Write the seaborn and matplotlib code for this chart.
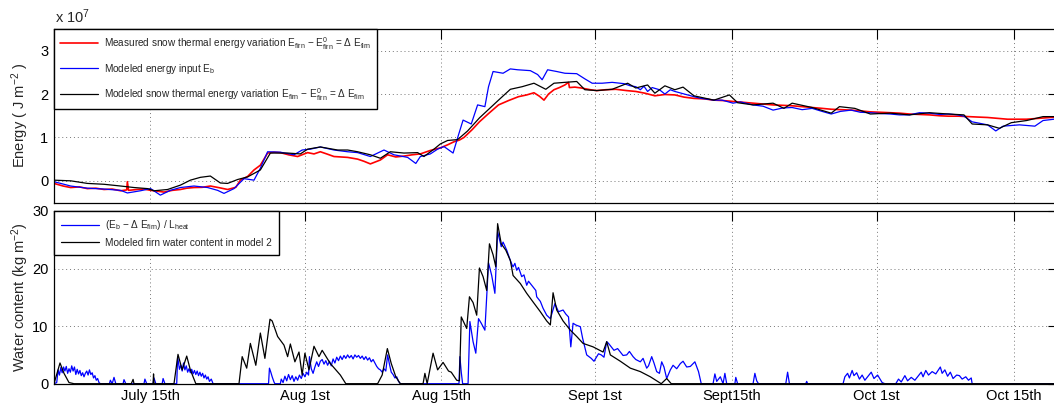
import matplotlib
matplotlib.use("Agg")
import matplotlib.pyplot as plt
import seaborn as sns
import pandas as pd

# ---------------- data (days on the plot's time axis) -------------
tick_days = [10.56, 27.56, 42.6, 59.5, 74.6, 90.5, 105.6]
tick_labels = ["July 15th", "Aug 1st", "Aug 15th", "Sept 1st", "Sept15th", "Oct 1st", "Oct 15th"]

# Top panel, energy in units of 1e7 J m^-2
meas_day = [0, 1.0, 1.83, 2.8, 3.67, 4.6, 5.5, 6.4, 7.33, 8.0, 8.07, 8.2, 9.17, 9.9, 10.63, 11.4, 12.1, 13.0,
            13.9, 14.6, 15.4, 16.3, 17.2, 18.2, 19.1, 20.0, 20.5, 21.3, 22.0, 22.7, 23.5, 24.2, 24.9, 25.8,
            26.8, 27.9, 28.6, 29.3, 30.0, 30.8, 32.3, 33.4, 34.1, 34.8, 35.9, 36.7, 37.6, 38.5, 39.4, 40.3,
            41.4, 42.5, 43.3, 44.0, 44.6, 45.1, 46.0, 46.8, 47.8, 48.9, 50.0, 51.1, 52.0, 52.8, 53.4, 53.9,
            54.4, 55.0, 55.6, 56.2, 56.6, 56.7, 57.3, 58.0, 59.0, 59.7, 60.7, 61.8, 63.0, 64.0, 65.0, 66.1,
            67.2, 68.3, 69.3, 70.4, 71.5, 72.6, 73.6, 74.7, 75.8, 76.9, 78.0, 79.1, 80.2, 81.2, 82.3, 83.4,
            84.5, 85.5, 86.6, 87.7, 88.8, 89.8, 90.9, 92.0, 93.0, 94.1, 95.2, 96.3, 97.4, 98.4, 99.5, 100.6,
            101.6, 102.7, 103.8, 104.9, 106.0, 107.0, 108.3, 109.6, 110.5]
meas_val = [-0.06, -0.12, -0.155, -0.14, -0.18, -0.17, -0.2, -0.19, -0.23, -0.21, -0.02, -0.22, -0.2, -0.19,
            -0.22, -0.24, -0.26, -0.22, -0.2, -0.17, -0.155, -0.15, -0.12, -0.16, -0.2, -0.15, 0.015, 0.1,
            0.25, 0.36, 0.64, 0.66, 0.65, 0.6, 0.56, 0.65, 0.62, 0.67, 0.62, 0.56, 0.54, 0.5, 0.45, 0.39,
            0.48, 0.6, 0.55, 0.57, 0.6, 0.62, 0.7, 0.76, 0.83, 0.9, 0.94, 1.0, 1.18, 1.36, 1.55, 1.75, 1.85,
            1.94, 1.98, 2.03, 1.95, 1.86, 2.0, 2.1, 2.15, 2.21, 2.27, 2.15, 2.16, 2.14, 2.1, 2.08, 2.1, 2.11,
            2.08, 2.06, 2.02, 1.96, 1.99, 1.98, 1.93, 1.9, 1.89, 1.86, 1.85, 1.83, 1.81, 1.79, 1.77, 1.75,
            1.74, 1.73, 1.71, 1.69, 1.67, 1.65, 1.64, 1.63, 1.61, 1.59, 1.58, 1.57, 1.56, 1.54, 1.53, 1.52,
            1.5, 1.49, 1.49, 1.48, 1.47, 1.46, 1.44, 1.42, 1.42, 1.42, 1.44, 1.46, 1.47]

eb_day = [0, 1.83, 3.67, 5.5, 7.33, 8.07, 9.5, 10.63, 11.7, 12.8, 13.9, 15.4, 16.9, 18.0, 18.7, 19.8, 20.9,
          22.0, 22.7, 23.5, 24.9, 26.4, 27.3, 28.2, 29.3, 30.8, 32.3, 33.4, 34.8, 36.3, 37.4, 38.9, 39.8,
          40.3, 41.4, 42.2, 42.9, 43.5, 43.9, 44.5, 45.0, 45.9, 46.6, 47.4, 47.8, 48.3, 49.4, 50.2, 51.0,
          52.4, 53.2, 53.7, 54.3, 55.3, 56.2, 57.5, 58.4, 59.2, 60.3, 61.4, 62.7, 63.4, 64.0, 64.5, 64.9,
          65.3, 65.8, 66.6, 67.2, 67.8, 68.3, 69.0, 70.4, 71.2, 72.6, 73.5, 74.7, 75.5, 76.9, 78.0, 79.1,
          80.2, 81.2, 82.3, 83.4, 84.5, 85.5, 86.5, 87.7, 88.7, 89.8, 91.0, 92.0, 93.0, 94.1, 95.2, 96.3,
          97.4, 98.4, 99.4, 100.1, 101.0, 102.7, 103.6, 104.4, 106.2, 107.9, 108.8, 110.0, 110.5]
eb_val = [-0.02, -0.12, -0.17, -0.19, -0.22, -0.28, -0.23, -0.18, -0.33, -0.22, -0.155, -0.12, -0.155, -0.22,
          -0.29, -0.18, 0.05, 0.015, 0.29, 0.67, 0.66, 0.6, 0.71, 0.73, 0.78, 0.71, 0.67, 0.65, 0.56, 0.71,
          0.6, 0.54, 0.4, 0.56, 0.62, 0.73, 0.79, 0.7, 0.64, 1.06, 1.4, 1.31, 1.75, 1.71, 2.17, 2.52, 2.48,
          2.58, 2.56, 2.54, 2.45, 2.33, 2.56, 2.52, 2.48, 2.47, 2.35, 2.25, 2.25, 2.27, 2.24, 2.19, 2.17,
          2.1, 2.18, 2.06, 2.15, 2.1, 2.0, 2.1, 2.06, 2.02, 1.94, 1.9, 1.86, 1.86, 1.79, 1.82, 1.75, 1.72,
          1.63, 1.68, 1.69, 1.64, 1.67, 1.6, 1.54, 1.6, 1.63, 1.58, 1.57, 1.55, 1.54, 1.52, 1.52, 1.57,
          1.56, 1.53, 1.54, 1.52, 1.49, 1.36, 1.29, 1.15, 1.26, 1.29, 1.26, 1.39, 1.42, 1.43]

mod_day = [0, 1.83, 3.67, 5.5, 7.33, 8.8, 10.3, 11.0, 12.5, 13.9, 15.0, 16.1, 17.2, 18.3, 19.1, 20.2, 21.3,
           22.7, 23.8, 25.7, 27.1, 27.9, 29.3, 31.2, 32.3, 33.4, 34.8, 35.9, 37.0, 38.5, 40.0, 40.7, 41.8,
           42.5, 43.3, 44.4, 45.5, 46.8, 48.9, 50.2, 51.5, 52.8, 54.1, 55.0, 56.2, 57.5, 58.4, 59.7, 61.4,
           63.1, 64.0, 65.3, 66.1, 67.2, 68.3, 69.2, 70.4, 72.6, 74.3, 75.2, 76.9, 79.1, 80.3, 81.2, 83.4,
           85.5, 86.4, 88.1, 89.8, 92.0, 94.1, 96.3, 98.4, 100.1, 101.0, 102.7, 104.0, 105.3, 107.0, 108.8,
           110.5]
mod_val = [0.015, 0.0, -0.06, -0.08, -0.12, -0.155, -0.18, -0.23, -0.2, -0.1, 0.015, 0.08, 0.11, -0.05, -0.06,
           0.03, 0.09, 0.25, 0.64, 0.64, 0.62, 0.73, 0.78, 0.71, 0.71, 0.67, 0.6, 0.52, 0.67, 0.64, 0.65,
           0.56, 0.73, 0.85, 0.93, 0.95, 1.15, 1.45, 1.86, 2.11, 2.17, 2.25, 2.11, 2.25, 2.27, 2.29, 2.1,
           2.08, 2.11, 2.25, 2.14, 2.21, 2.02, 2.19, 2.1, 2.16, 1.96, 1.86, 1.98, 1.8, 1.75, 1.79, 1.67,
           1.79, 1.69, 1.56, 1.71, 1.67, 1.54, 1.56, 1.52, 1.57, 1.54, 1.52, 1.31, 1.29, 1.21, 1.34, 1.39,
           1.48, 1.48]

# Bottom panel, water content (kg m^-2)
wc_day = [0, 0.3, 0.45, 0.6, 0.75, 0.9, 1.05, 1.2, 1.35, 1.5, 1.65, 1.8, 1.95, 2.1, 2.25, 2.4, 2.55, 2.7,
          2.85, 3.0, 3.15, 3.3, 3.45, 3.6, 3.75, 3.9, 4.05, 4.2, 4.35, 4.5, 4.65, 4.8, 4.95, 5.1, 6.1, 6.2,
          6.4, 6.6, 6.8, 7.6, 7.7, 7.9, 9.9, 10.0, 10.2, 10.9, 11.0, 11.2, 11.9, 12.0, 12.2, 13.5, 13.6, 13.8,
          13.95, 14.1, 14.25, 14.4, 14.55, 14.7, 14.85, 15.0, 15.15, 15.3, 15.45, 15.6, 15.75, 15.9, 16.05,
          16.2, 16.35, 16.5, 16.65, 16.8, 16.95, 17.1, 17.3, 17.5, 23.6, 23.7, 23.85, 24.0, 24.2, 24.3,
          24.9, 25.0, 25.2, 25.4, 25.6, 25.8, 26.0, 26.2, 26.4, 26.6, 26.8, 27.0, 27.2, 27.4, 27.6, 27.8,
          28.0, 28.1, 28.3, 28.5, 28.7, 28.9, 29.1, 29.3, 29.5, 29.7, 29.9, 30.1, 30.3, 30.5, 30.7, 30.9,
          31.1, 31.3, 31.5, 31.7, 31.9, 32.1, 32.3, 32.5, 32.7, 32.9, 33.1, 33.3, 33.5, 33.7, 33.9, 34.1,
          34.3, 34.5, 34.7, 34.9, 35.1, 35.3, 35.5, 35.7, 35.9, 36.1, 36.3, 36.5, 36.7, 36.9, 37.1, 37.3,
          37.5, 37.7, 37.9, 38.1, 44.55, 44.65, 44.8, 44.95, 45.55, 45.75, 46.1, 46.4, 46.7, 47.0, 47.4,
          47.8, 48.15, 48.5, 48.8, 49.2, 49.4, 49.8, 50.0, 50.2, 50.4, 50.5, 50.7, 50.9, 51.1, 51.45, 51.7,
          52.0, 52.2, 52.7, 53.0, 53.1, 53.5, 53.8, 54.2, 54.6, 55.1, 55.5, 56.0, 56.3, 56.6, 56.85, 57.1,
          57.4, 57.9, 58.15, 58.6, 59.1, 59.4, 59.7, 59.9, 60.2, 60.5, 60.8, 61.0, 61.3, 61.6, 62.0, 62.3,
          62.6, 63.0, 63.3, 63.7, 64.0, 64.5, 64.8, 65.2, 65.4, 65.75, 66.0, 66.3, 66.6, 66.85, 67.1, 67.4,
          67.8, 68.1, 68.5, 68.9, 69.2, 69.6, 70.0, 70.5, 70.9, 71.2, 72.5, 72.7, 72.9, 73.3, 73.6, 73.8,
          74.0, 74.9, 75.0, 75.2, 76.9, 77.1, 77.3, 77.5, 80.5, 80.7, 80.9, 82.7, 82.8, 82.9, 86.8, 87.0,
          87.3, 87.5, 87.8, 88.0, 88.3, 88.6, 88.9, 89.2, 89.6, 89.9, 90.2, 90.6, 91.1, 91.4, 92.6, 92.9,
          93.2, 93.6, 93.9, 94.3, 94.7, 95.1, 95.4, 95.6, 95.9, 96.2, 96.6, 97.0, 97.5, 97.7, 98.0, 98.3,
          98.6, 98.9, 99.3, 99.6, 99.9, 100.3, 100.6, 100.9, 101.0, 110.5]
wc_val = [0, 0.2, 2.4, 1.5, 2.8, 1.9, 2.9, 2.2, 3.0, 1.8, 2.6, 2.0, 3.1, 2.2, 2.9, 1.6, 2.5, 1.7, 2.3, 1.4,
          1.9, 1.2, 1.8, 2.2, 1.5, 2.4, 1.6, 1.9, 1.0, 1.4, 0.6, 0.9, 0.2, 0, 0, 0.6, 0, 1.1, 0, 0, 0.7, 0,
          0, 0.8, 0, 0, 1.0, 0, 0, 0.9, 0, 0, 4.7, 2.5, 3.2, 2.2, 3.6, 2.4, 3.1, 2.0, 2.6, 1.9, 2.5, 1.7, 2.3,
          1.6, 2.2, 1.4, 2.0, 1.3, 1.8, 1.0, 1.5, 0.8, 1.2, 0.4, 0.8, 0, 0, 2.7, 2.0, 1.2, 0.3, 0, 0, 0.8,
          0.2, 1.3, 0.5, 1.6, 0.7, 1.4, 0.4, 1.2, 0.6, 1.5, 0.9, 1.8, 1.2, 2.0, 1.5, 4.7, 2.6, 1.8, 2.9, 3.8,
          3.0, 3.9, 4.2, 3.4, 4.0, 3.2, 3.9, 3.1, 4.3, 3.6, 4.6, 4.0, 4.8, 4.2, 4.9, 4.4, 5.0, 4.5, 4.9, 4.3,
          5.0, 4.6, 4.9, 4.4, 4.8, 4.2, 4.7, 4.1, 4.5, 3.8, 4.2, 3.6, 3.0, 2.6, 2.4, 2.0, 2.6, 2.2, 5.0, 3.4,
          2.0, 1.6, 1.0, 1.2, 0.4, 0, 0, 4.7, 2.0, 0, 0, 10.8, 7.3, 5.3, 11.3, 10.5, 9.3, 21.0, 18.8, 15.7,
          26.4, 23.8, 24.6, 23.2, 22.3, 21.4, 20.6, 20.3, 20.9, 19.7, 20.2, 18.6, 18.9, 17.1, 17.8, 16.8,
          16.2, 15.1, 14.3, 13.1, 11.9, 11.3, 13.9, 12.5, 12.8, 12.1, 11.6, 6.4, 10.5, 10.2, 9.9, 7.9, 5.0,
          4.4, 3.9, 4.7, 5.2, 5.0, 4.6, 7.3, 7.0, 6.4, 5.8, 6.1, 5.5, 4.9, 5.0, 5.6, 4.7, 4.2, 3.8, 4.4,
          2.7, 3.1, 4.7, 3.6, 2.1, 1.8, 3.8, 2.9, 0.9, 2.4, 3.2, 2.6, 3.5, 3.9, 2.9, 3.0, 3.8, 2.1, 0, 0,
          1.7, 0.4, 1.2, 0, 1.8, 0, 0, 1.1, 0, 0, 1.8, 0.5, 0, 0, 2.0, 0, 0, 0.4, 0, 0, 1.2, 1.8, 1.0, 2.3,
          1.4, 1.9, 0.8, 1.5, 0.6, 1.4, 2.0, 0.9, 1.5, 0.2, 0, 0, 0.8, 0.3, 1.4, 0.5, 1.1, 0.6, 1.4, 2.0,
          1.2, 2.3, 1.5, 2.1, 1.7, 2.9, 1.8, 2.4, 1.3, 2.0, 0.9, 1.5, 1.4, 0.8, 1.2, 0.6, 1.0, 0, 0]

firn_day = [0, 0.44, 0.66, 1.1, 1.65, 2.2, 8.5, 8.7, 8.8, 10.9, 10.95, 11.0, 13.2, 13.64, 14.1, 14.6, 15.0,
            15.6, 20.35, 20.7, 21.2, 21.6, 22.2, 22.7, 23.2, 23.76, 24.0, 24.6, 25.3, 25.7, 26.0, 26.5,
            26.95, 27.3, 27.6, 28.05, 28.6, 29.15, 29.5, 30.4, 31.5, 32.1, 35.6, 36.1, 36.67, 37.1, 37.6,
            38.1, 40.6, 40.8, 41.05, 41.7, 42.2, 42.8, 43.4, 43.7, 44.3, 44.6, 44.8, 45.4, 45.7, 46.1, 46.5,
            46.8, 47.2, 47.6, 47.9, 48.3, 48.6, 48.8, 49.2, 49.7, 50.2, 50.5, 51.3, 52.0, 52.7, 53.5, 54.2,
            54.6, 54.9, 55.3, 56.0, 56.8, 57.5, 58.2, 59.3, 60.4, 60.8, 61.2, 62.3, 63.4, 64.5, 65.6, 66.5,
            66.8, 67.4, 67.9, 110.5]
firn_val = [0, 2.4, 3.6, 1.8, 0.2, 0, 0, 0.75, 0, 0, 1.7, 0, 0, 5.1, 2.4, 4.8, 2.4, 0, 0, 4.7, 2.7, 7.0, 3.2,
            8.8, 4.4, 11.2, 10.9, 8.2, 6.7, 4.7, 6.9, 3.8, 5.5, 1.5, 5.3, 2.4, 6.5, 4.7, 5.8, 3.5, 1.5, 0, 0,
            1.5, 6.1, 3.5, 1.2, 0, 0, 1.8, 0, 5.3, 2.4, 3.7, 2.2, 2.0, 0.6, 0.5, 11.6, 9.6, 15.1, 14.1, 11.9,
            20.1, 18.6, 16.2, 24.3, 22.4, 20.3, 27.8, 24.3, 23.2, 21.4, 18.8, 17.4, 15.7, 14.2, 12.5, 10.9,
            10.2, 15.8, 12.8, 10.9, 9.3, 8.2, 7.0, 6.4, 5.5, 7.3, 5.0, 3.9, 2.7, 2.1, 1.2, 0.3, 0, 0.9, 0, 0]

# ---------------- style -------------
sns.set_theme(style="white")
plt.rcParams["font.family"] = ["Liberation Sans", "DejaVu Sans"]
plt.rcParams["mathtext.fontset"] = "custom"
plt.rcParams["mathtext.rm"] = "Liberation Sans"
plt.rcParams["mathtext.it"] = "Liberation Sans:italic"
plt.rcParams["axes.edgecolor"] = "black"
plt.rcParams["axes.linewidth"] = 0.9

W, H = 1054, 403
fig = plt.figure(figsize=(W / 100, H / 100), dpi=100)
xmax = 110.5
ax_w = 1004.5 / W
ax1 = fig.add_axes([54 / W, (H - 202.5) / H, ax_w, 173.5 / H])
ax2 = fig.add_axes([54 / W, (H - 383.7) / H, ax_w, 172.7 / H])

lw = 0.9
sns.lineplot(x=meas_day, y=meas_val, ax=ax1, color="#ff0000", lw=1.2, estimator=None, sort=False,
             label=r"Measured snow thermal energy variation E$_{\rm firn}$ $-$ E$^{0}_{\rm firn}$ = Δ E$_{\rm firn}$")
sns.lineplot(x=eb_day, y=eb_val, ax=ax1, color="#0000ff", lw=lw, estimator=None, sort=False,
             label=r"Modeled energy input E$_{\rm b}$")
sns.lineplot(x=mod_day, y=mod_val, ax=ax1, color="black", lw=lw, estimator=None, sort=False,
             label=r"Modeled snow thermal energy variation E$_{\rm firn}$ $-$ E$^{0}_{\rm firn}$ = Δ E$_{\rm firn}$")

sns.lineplot(x=wc_day, y=wc_val, ax=ax2, color="#0000ff", lw=lw, estimator=None, sort=False,
             label=r"(E$_{\rm b}$ $-$ Δ E$_{\rm firn}$) / L$_{\rm heat}$")
sns.lineplot(x=firn_day, y=firn_val, ax=ax2, color="black", lw=lw, estimator=None, sort=False,
             label="Modeled firn water content in model 2")

for ax in (ax1, ax2):
    ax.set_xlim(0, xmax)
    ax.set_xticks(tick_days)
    ax.grid(True, linestyle=(0, (1, 3)), color="#777777", linewidth=0.7)
    ax.tick_params(direction="in", length=7, width=0.8, top=True, right=True,
                   labelsize=10.5, colors="black", pad=4)
    for s in ax.spines.values():
        s.set_color("black")

ax1.set_ylim(-0.5, 3.5)
ax1.set_yticks([0, 1, 2, 3])
ax1.set_xticklabels([])
ax1.set_ylabel(r"Energy ( J m$^{-2}$ )", fontsize=10.5)
ax1.yaxis.set_label_coords(-0.023, 0.5)

ax2.set_ylim(0, 30)
ax2.set_yticks([0, 10, 20, 30])
ax2.set_xticklabels(tick_labels)
ax2.set_ylabel(r"Water content (kg m$^{-2}$)", fontsize=10.5)
ax2.yaxis.set_label_coords(-0.023, 0.5)

fig.text(55 / W, 1 - 23 / H, r"x 10$^{7}$", fontsize=10.5, va="baseline", ha="left")

leg_kw = dict(loc="upper left", bbox_to_anchor=(0, 1), borderaxespad=0, fancybox=False,
              edgecolor="black", framealpha=1, fontsize=7.2, handlelength=3.8,
              handletextpad=0.6)
l1 = ax1.legend(labelspacing=1.0, borderpad=0.6, **leg_kw)
l2 = ax2.legend(labelspacing=0.55, borderpad=0.7, **leg_kw)
for l in (l1, l2):
    l.get_frame().set_linewidth(1.0)

fig.savefig("out.png", dpi=100)
